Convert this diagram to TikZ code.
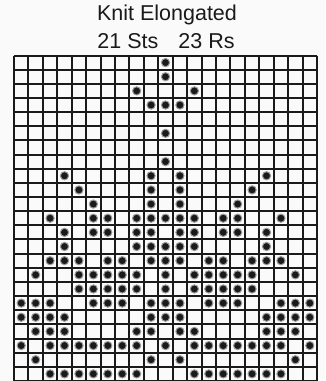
\documentclass[tikz,border=0pt]{standalone}
\usepackage{fontspec}
\setsansfont{Liberation Sans}
\usetikzlibrary{positioning}
\definecolor{Ink}{HTML}{1A1A1A}
\definecolor{Paper}{HTML}{FAFAFA}

\begin{document}
\begin{tikzpicture}[x=1pt,y=-1pt,font=\sffamily,
  heading/.style={inner sep=0pt,text=Ink,font=\sffamily\fontsize{21.5}{21.5}\selectfont},
  gridline/.style={draw=Ink,line width=2pt},
  stitch/.style={fill=Ink,draw=Ink!45,line width=1pt}]
 \useasboundingbox[fill=Paper] (0,0) rectangle (325,381);
 \node[heading] (title) at (167,15) {Knit Elongated};
 \node[heading] (count) at (166,41) {21 Sts\hspace{20pt}23 Rs};
 \begin{scope}[xshift=14pt,yshift=-55.5pt,x=14.43pt,y=-14.15pt]
  % chart grid
  \foreach \i in {0,...,21} \draw[gridline] (\i,0) -- (\i,23);
  \foreach \j in {0,...,23} \draw[gridline] (0,\j) -- (21,\j);
  % stitches, row by row from the top
  \foreach \row/\cols in {0/{10},1/{10},2/{8,12},3/{9,10,11},5/{10},7/{10},
    8/{3,9,11,17},9/{4,9,11,16},10/{5,9,11,15},
    11/{2,5,6,8,9,10,11,12,14,15,18},12/{3,5,6,8,9,11,12,14,15,17},
    13/{3,8,9,10,11,12,17},14/{2,3,4,6,7,9,10,11,13,14,16,17,18},
    15/{1,4,5,6,7,8,10,12,13,14,15,16,19},16/{4,5,6,7,8,10,12,13,14,15,16},
    17/{0,1,2,5,6,7,9,10,11,13,14,15,18,19,20},18/{0,1,2,3,9,10,11,17,18,19,20},
    19/{1,2,3,8,9,11,12,17,18,19},20/{0,2,3,4,5,6,7,8,10,12,13,14,15,16,17,18,20},
    21/{1,9,11,19},22/{2,3,4,5,6,7,8,12,13,14,15,16,17,18}}
   \foreach \c in \cols \path[stitch] (\c+0.5,\row+0.5) circle (4.1pt);
 \end{scope}
\end{tikzpicture}
\end{document}
